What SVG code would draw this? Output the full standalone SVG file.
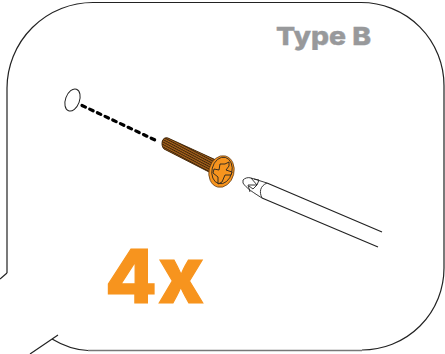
<svg xmlns="http://www.w3.org/2000/svg" width="445" height="354" viewBox="0 0 445 354">
<defs>
<style>
.ln{fill:none;stroke:#222;stroke-width:1.2}
.thin{fill:none;stroke:#222;stroke-width:.9}
.t{font-family:"Inter","Liberation Sans",sans-serif;font-weight:800}
</style>
<pattern id="thread" width="2.200" height="2.200" patternUnits="userSpaceOnUse" patternTransform="rotate(28)">
<rect width="2.200" height="2.200" fill="#a8621a"/>
<rect width="2.200" height="1" fill="#3f260c"/>
</pattern>
</defs>
<rect width="445" height="354" fill="#fff"/>
<g id="frame">
<path class="ln" d="M7 273V88A86 86 0 0 1 93 2.500H361A83 83 0 0 1 444 85.500V268A82 82 0 0 1 362 350"/>
<path d="M362 350.500H88" fill="none" stroke="#777" stroke-width="1.500"/>
<path class="ln" d="M88 350.500C74 350 62 345 52 339"/>
<path class="ln" d="M7 273L0 279M58 335L30 354"/>
</g>
<g id="hole"><ellipse cx="72.500" cy="100" rx="7" ry="11.500" transform="rotate(20 72.500 100)" fill="#fff" stroke="#222" stroke-width="1"/></g>
<g id="connectors"><path d="M82 105.500L155 140" fill="none" stroke="#000" stroke-width="3.200" stroke-linecap="round" stroke-dasharray="3.800 4.700"/></g>
<g id="screw">
<path d="M168 138L216 160L209 172L164 149C160 145 162 136 168 138Z" fill="#7a4712"/>
<path d="M168 138L216 160L209 172L164 149C160 145 162 136 168 138Z" fill="url(#thread)" stroke="#3a2208" stroke-width=".8" transform="rotate(0)"/>
<ellipse cx="221.500" cy="171.500" rx="12.500" ry="16" transform="rotate(14 221.500 171.500)" fill="#f7941e" stroke="#5a3410" stroke-width=".7"/>
<ellipse cx="222" cy="170.500" rx="10" ry="13.500" transform="rotate(14 222 170.500)" fill="none" stroke="#222" stroke-width=".8"/>
<path d="M225 164L229 162L229 166L226 170L232 172L231 175L225 175L222 182L218 184L218 177L213 173L214 169L219 170L220 164Z" fill="#f7941e" stroke="#222" stroke-width=".9"/>
</g>
<g id="screwdriver">
<path class="ln" d="M267 183L382 232M262 198L378 247"/>
<path class="thin" d="M243 180C245 178 248 177 251 178L267 183C260 186 259 192 262 198C254 193 246 188 243 183Z"/>
<path class="thin" d="M251 178L257 185L248 185L250 192M257 185L253 189L249 186M254 179L259 180L257 185"/>
</g>
<g id="labels">
<text class="t" x="276" y="45" font-size="25" fill="#98999b" stroke="#98999b" stroke-width=".4" textLength="95" lengthAdjust="spacingAndGlyphs">Type B</text>
<text class="t" y="303" fill="#f7941e" stroke="#f7941e" stroke-width="1.200"><tspan x="105" font-size="74" textLength="52" lengthAdjust="spacingAndGlyphs">4</tspan><tspan x="158" font-size="78" textLength="46" lengthAdjust="spacingAndGlyphs">x</tspan></text>
</g>
</svg>
